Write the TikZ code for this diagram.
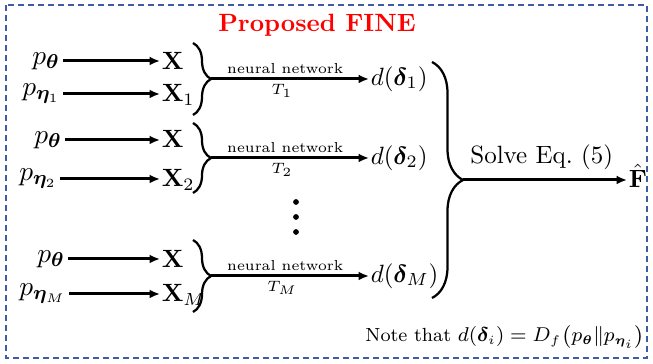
\documentclass[tikz,border=0pt]{standalone}
\usepackage{amsmath,bm}
\usetikzlibrary{arrows.meta,decorations.pathreplacing,calc}
\definecolor{frameblue}{RGB}{62,92,165}
\tikzset{
  arr/.style={line width=1.2pt,-{Latex[length=4.2pt,width=3.6pt]}},
  brc/.style={line width=0.9pt,decorate,decoration={brace,amplitude=#1}},
  pnode/.style={inner sep=1pt,anchor=east,font=\fontsize{11}{13}\selectfont},
  xnode/.style={inner sep=0.5pt,anchor=base west},
  dnode/.style={inner sep=0.5pt,anchor=west},
  nnlab/.style={font=\fontsize{5.8}{7}\selectfont,inner sep=1.5pt},
  dot/.style={circle,fill=black,inner sep=0pt,minimum size=2.3pt}
}
\begin{document}
\begin{tikzpicture}[x=0.4pt,y=-0.4pt]
\useasboundingbox (0,0) rectangle (653,364);
\draw[frameblue,line width=0.6pt,dash pattern=on 2.4pt off 1.6pt] (6,5) rectangle (647,358);
\node[text=red,font=\bfseries,anchor=base] (title) at (317,32) {Proposed FINE};

% group 1
\node[pnode] (p1a) at (63,61) {$p_{\bm\theta}$};
\node[pnode] (p1b) at (63,94) {$p_{\bm\eta_1}$};
\node[xnode] (x1a) at (160,70) {$\mathbf{X}$};
\node[xnode] (x1b) at (160,102) {$\mathbf{X}_1$};
\draw[arr] (p1a.east) -- (p1a.east -| x1a.west);
\draw[arr] (p1b.east) -- (p1b.east -| x1b.west);
\coordinate (b1t) at (193,43);
\coordinate (b1b) at (193,115);
\coordinate (t1) at (211,79);
\draw[brc=7.2pt] (b1t) -- (b1b);
\node[dnode] (d1) at (369,79) {$d(\bm\delta_1)$};
\draw[arr] (t1) -- (d1.west)
  node[pos=0.47,above,nnlab] {neural network}
  node[pos=0.45,below,nnlab] {$T_1$};

% group 2
\node[pnode] (p2a) at (65,140) {$p_{\bm\theta}$};
\node[pnode] (p2b) at (60,179) {$p_{\bm\eta_2}$};
\node[xnode] (x2a) at (160,148) {$\mathbf{X}$};
\node[xnode] (x2b) at (160,187) {$\mathbf{X}_2$};
\draw[arr] (p2a.east) -- (p2a.east -| x2a.west);
\draw[arr] (p2b.east) -- (p2b.east -| x2b.west);
\coordinate (b2t) at (193,123);
\coordinate (b2b) at (193,193);
\coordinate (t2) at (211,158);
\draw[brc=7.2pt] (b2t) -- (b2b);
\node[dnode] (d2) at (369,158) {$d(\bm\delta_2)$};
\draw[arr] (t2) -- (d2.west)
  node[pos=0.47,above,nnlab] {neural network}
  node[pos=0.45,below,nnlab] {$T_2$};

% dots
\node[dot] (v1) at (296,202) {};
\node[dot] (v2) at (296,217) {};
\node[dot] (v3) at (296,232) {};

% group 3
\node[pnode] (p3a) at (68,259) {$p_{\bm\theta}$};
\node[pnode] (p3b) at (69,294) {$p_{\bm\eta_M}$};
\node[xnode] (x3a) at (160,268) {$\mathbf{X}$};
\node[xnode] (x3b) at (160,302) {$\mathbf{X}_M$};
\draw[arr] (p3a.east) -- (p3a.east -| x3a.west);
\draw[arr] (p3b.east) -- (p3b.east -| x3b.west);
\coordinate (b3t) at (193,240);
\coordinate (b3b) at (193,312);
\coordinate (t3) at (211,276);
\draw[brc=7.2pt] (b3t) -- (b3b);
\node[dnode] (d3) at (369,276) {$d(\bm\delta_M)$};
\draw[arr] (t3) -- (d3.west)
  node[pos=0.47,above,nnlab] {neural network}
  node[pos=0.45,below,nnlab] {$T_M$};

% big brace
\coordinate (bbt) at (432,62);
\coordinate (bbb) at (432,298);
\coordinate (tb) at (463,180);
\draw[brc=12.4pt] (bbt) -- (bbb);
\node[inner sep=0.5pt,anchor=base west] (F) at (627,188) {$\hat{\mathbf{F}}$};
\draw[arr] (tb) -- (tb -| F.west) node[pos=0.48,above,inner xsep=0.5pt] {Solve Eq.~(5)};

\node[anchor=base east,font=\fontsize{7.6}{9}\selectfont,inner sep=0pt] (note) at (645,342) {Note that $d(\bm\delta_i)=D_f\big(p_{\bm\theta}\|p_{\bm\eta_i}\big)$};
\end{tikzpicture}
\end{document}
